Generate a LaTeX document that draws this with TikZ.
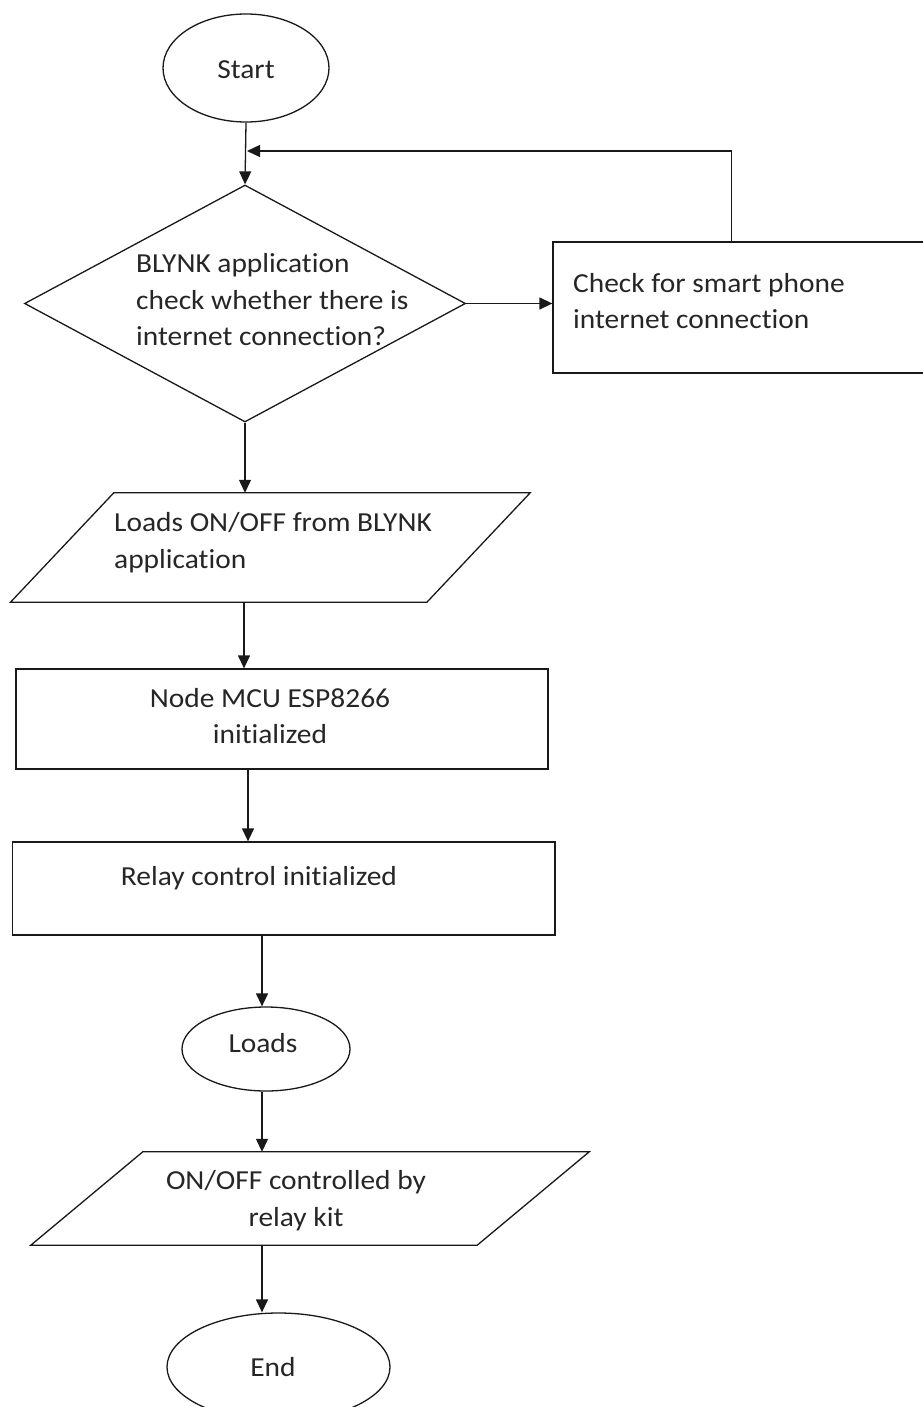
\documentclass[tikz,border=0pt]{standalone}
\usepackage{fontspec}
\setmainfont{Carlito}[FakeStretch=1.07,Ligatures=NoCommon]
\usetikzlibrary{shapes.geometric,arrows.meta}
\begin{document}
\begin{tikzpicture}[x=1pt,y=-1pt,
  line/.style={line width=1.3pt, draw=black!90},
  arr/.style={line, -{Triangle[length=13pt,width=12pt]}},
  oval/.style={ellipse, line, inner sep=0pt},
  boxnode/.style={rectangle, line, inner sep=0pt},
  ghost/.style={rectangle, inner sep=0pt, draw=none},
  txt/.style={font=\fontsize{27.5}{36.5}\selectfont, inner sep=0pt, text=black!85},
]
\useasboundingbox (0,0) rectangle (922,1407);
\fill[white] (0,0) rectangle (922,1407);

% column coordinates for vertical connectors
\coordinate (cx1) at (244,0);
\coordinate (cx2) at (248,0);
\coordinate (cx3) at (262,0);
\coordinate (j) at (247,151);

% Start
\node[oval, minimum width=166pt, minimum height=108pt] (start) at (246,68) {};
\node[txt] (tstart) at (246,70) {Start};

% Decision diamond
\node[diamond, line, inner sep=0pt, minimum width=441pt, minimum height=237pt] (dia) at (245,303.5) {};
\node[txt, align=left, anchor=west] (tdia) at (136,300) {BLYNK application\\check whether there is\\internet connection?};

% Check box (runs off the right edge)
\node[boxnode, minimum width=382pt, minimum height=131pt] (chk) at (744,307.5) {};
\node[txt, align=left, anchor=west] (tchk) at (573,301) {Check for smart phone\\internet connection};

% Parallelogram 1
\node[ghost, minimum width=519.3pt, minimum height=109pt] (p1) at (270.35,547.5) {};
\draw[line] ([xshift=103.3pt]p1.north west) -- (p1.north east) -- ([xshift=-103.3pt]p1.south east) -- (p1.south west) -- cycle;
\node[txt, align=left, anchor=west] (tp1) at (114,542.5) {Loads ON/OFF from BLYNK\\application};

% Node MCU box
\node[boxnode, minimum width=532pt, minimum height=100pt] (n2) at (282,719) {};
\node[txt, align=center] (tn2) at (270,716) {Node MCU ESP8266\\initialized};

% Relay box
\node[boxnode, minimum width=542.4pt, minimum height=93pt] (n3) at (283.8,888.5) {};
\node[txt] (tn3) at (259,878) {Relay control initialized};

% Loads ellipse
\node[oval, minimum width=168pt, minimum height=84pt] (loads) at (266,1049) {};
\node[txt] (tloads) at (263,1043) {Loads};

% Parallelogram 2
\node[ghost, minimum width=558pt, minimum height=93pt] (p2) at (310,1198.5) {};
\draw[line] ([xshift=112pt]p2.north west) -- (p2.north east) -- ([xshift=-112pt]p2.south east) -- (p2.south west) -- cycle;
\node[txt, align=center] (tp2) at (296,1200.5) {ON/OFF controlled by\\relay kit};

% End ellipse
\node[oval, minimum width=223pt, minimum height=108pt] (endn) at (278.5,1367) {};
\node[txt] (tend) at (273,1367) {End};

% Connectors
\draw[arr] (start.south) -- (dia.north);
\draw[arr] ([xshift=179pt]chk.north west) |- (j);
\draw[arr] (dia.east) -- (dia.east -| chk.west);
\draw[arr] (dia.south) -- (dia.south |- p1.north);
\draw[arr] (p1.south -| cx1) -- (n2.north -| cx1);
\draw[arr] (n2.south -| cx2) -- (n3.north -| cx2);
\draw[arr] (n3.south -| cx3) -- (loads.north -| cx3);
\draw[arr] (loads.south -| cx3) -- (p2.north -| cx3);
\draw[arr] (p2.south -| cx3) -- (endn.north -| cx3);
\end{tikzpicture}
\end{document}
